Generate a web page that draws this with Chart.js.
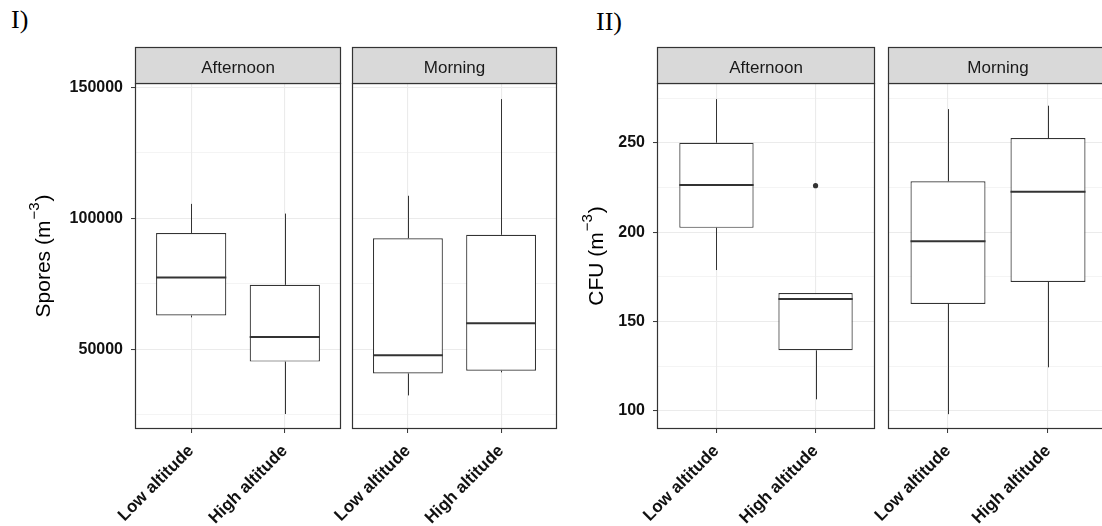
<!DOCTYPE html>
<html>
<head>
<meta charset="utf-8">
<script src="https://cdn.jsdelivr.net/npm/chart.js@4.4.1/dist/chart.umd.min.js"></script>
<style>
    body { margin: 0; width: 1102px; height: 526px; overflow: hidden; background: #fff; position: relative; }
    canvas.facet { position: absolute; top: 0; }
    .panel-label { position: absolute; font-family: 'Liberation Serif', 'Times New Roman', serif; font-size: 26px; line-height: 26px; color: #000; }
</style>
</head>
<body>
<div class="panel-label" style="left: 11px; top: 7px;">I)</div>
<div class="panel-label" style="left: 596px; top: 9px;">II)</div>
<canvas id="spores-afternoon" class="facet" style="left: 0px;" width="343" height="526"></canvas>
<canvas id="spores-morning" class="facet" style="left: 272px;" width="287" height="526"></canvas>
<canvas id="cfu-afternoon" class="facet" style="left: 560px;" width="319" height="526"></canvas>
<canvas id="cfu-morning" class="facet" style="left: 808px;" width="302" height="526"></canvas>
<script>
// Facets and categories
const timeOfDay = ['Afternoon', 'Morning'];
const altitudes = ['Low altitude', 'High altitude'];

// Spores (m-3): one inner array per time of day, values for [low, high]
const sporesMin    = [[62200, 25300], [32400, 41200]];
const sporesQ1     = [[62900, 45300], [40800, 41800]];
const sporesMedian = [[77400, 54700], [47700, 59900]];
const sporesQ3     = [[94400, 74600], [92400, 93700]];
const sporesMax    = [[105500, 101800], [108600, 145500]];
const sporesOutliers = [[[], []], [[], []]];
const sporesBreaks = [50000, 100000, 150000];
const sporesMinorBreaks = [25000, 75000, 125000];

// CFU (m-3)
const cfuMin    = [[178.8, 106.5], [98.2, 124.4]];
const cfuQ1     = [[202.4, 133.9], [159.8, 172.1]];
const cfuMedian = [[226.3, 162.6], [194.9, 222.6]];
const cfuQ3     = [[250.0, 165.9], [228.4, 252.6]];
const cfuMax    = [[274.4, 165.9], [268.8, 270.7]];
const cfuOutliers = [[[], [226]], [[], []]];
const cfuBreaks = [100, 150, 200, 250];
const cfuMinorBreaks = [125, 175, 225, 275];

const INK = '#333333';
const GRID = '#ebebeb';

// Whiskers, medians, panel border, strip and y title
const facetPlugin = {
    id: 'facet',
    afterDatasetsDraw(chart, args, opts) {
        const ctx = chart.ctx;
        const y = chart.scales.y;
        const meta = chart.getDatasetMeta(0);
        ctx.save();
        ctx.strokeStyle = INK;
        meta.data.forEach((bar, i) => {
            const { x, width } = bar.getProps(['x', 'width'], true);
            const cx = Math.round(x) + 0.5;
            ctx.lineWidth = 1;
            ctx.beginPath();
            ctx.moveTo(cx, y.getPixelForValue(opts.q3[i]));
            ctx.lineTo(cx, y.getPixelForValue(opts.max[i]));
            ctx.moveTo(cx, y.getPixelForValue(opts.q1[i]));
            ctx.lineTo(cx, y.getPixelForValue(opts.min[i]));
            ctx.stroke();
            const my = y.getPixelForValue(opts.median[i]);
            ctx.lineWidth = 2;
            ctx.beginPath();
            ctx.moveTo(x - width / 2, my);
            ctx.lineTo(x + width / 2, my);
            ctx.stroke();
        });
        ctx.restore();
    },
    afterDraw(chart, args, opts) {
        const ctx = chart.ctx;
        const { left, right, top, bottom } = chart.chartArea;
        const l = Math.round(left) + 0.5, r = Math.round(right) - 0.5;
        ctx.save();
        ctx.strokeStyle = INK;
        ctx.lineWidth = 1.2;
        ctx.strokeRect(l, top + 0.5, r - l, bottom - top - 1);
        // strip
        ctx.fillStyle = '#d9d9d9';
        ctx.fillRect(l, 47.5, r - l, top - 47.5);
        ctx.strokeRect(l, 47.5, r - l, top - 47);
        ctx.fillStyle = '#1a1a1a';
        ctx.font = '17px "Liberation Sans", Arial, sans-serif';
        ctx.textAlign = 'center';
        ctx.textBaseline = 'middle';
        ctx.fillText(opts.strip, (left + right) / 2, (47 + top) / 2 + 3);
        // y title with superscript
        if (opts.title) {
            ctx.translate(opts.titleX, (top + bottom) / 2);
            ctx.rotate(-Math.PI / 2);
            ctx.fillStyle = '#000';
            ctx.textAlign = 'left';
            ctx.textBaseline = 'alphabetic';
            const mainFont = '21px "Liberation Sans", Arial, sans-serif';
            const supFont = '15px "Liberation Sans", Arial, sans-serif';
            ctx.font = mainFont;
            const wMain = ctx.measureText(opts.title).width;
            const wClose = ctx.measureText(')').width;
            ctx.font = supFont;
            const wSup = ctx.measureText('\u22123').width;
            let x0 = -(wMain + wSup + wClose + 2) / 2;
            ctx.font = mainFont;
            ctx.fillText(opts.title, x0, 0);
            ctx.font = supFont;
            ctx.fillText('\u22123', x0 + wMain + 1, -11);
            ctx.font = mainFont;
            ctx.fillText(')', x0 + wMain + wSup + 2, 0);
        }
        ctx.restore();
    }
};

function makeFacet(canvasId, f, stats, setup) {
    const majors = setup.breaks;
    const all = setup.breaks.concat(setup.minor).sort((a, b) => a - b);
    const isMajor = v => majors.includes(v);
    new Chart(document.getElementById(canvasId), {
        type: 'bar',
        data: {
            datasets: [{
                data: altitudes.map((a, i) => ({ x: i + 1, y: [stats.q1[f][i], stats.q3[f][i]] })),
                backgroundColor: '#ffffff',
                borderColor: INK,
                borderWidth: 1.2,
                borderSkipped: false,
                categoryPercentage: 0.75,
                barPercentage: 1
            }, {
                type: 'scatter',
                data: stats.outliers[f].flatMap((vals, i) => vals.map(v => ({ x: i + 1, y: v }))),
                pointRadius: 2.6,
                backgroundColor: INK,
                borderWidth: 0
            }]
        },
        options: {
            responsive: false,
            animation: false,
            layout: { padding: { top: 83, right: 2, left: 0, bottom: 0 } },
            plugins: {
                legend: { display: false },
                tooltip: { enabled: false },
                facet: {
                    strip: timeOfDay[f],
                    q1: stats.q1[f], q3: stats.q3[f], median: stats.median[f],
                    min: stats.min[f], max: stats.max[f],
                    title: setup.showAxis ? setup.title : null,
                    titleX: setup.titleX
                }
            },
            scales: {
                x: {
                    type: 'linear',
                    min: 0.4,
                    max: 2.6,
                    offset: false,
                    afterBuildTicks: s => { s.ticks = altitudes.map((a, i) => ({ value: i + 1 })); },
                    afterFit: s => { s.height = 97; },
                    border: { display: false },
                    grid: { color: GRID, lineWidth: 1.1, tickColor: INK, tickLength: 4, tickWidth: 1, offset: false },
                    ticks: {
                        callback: v => altitudes[v - 1],
                        autoSkip: false,
                        minRotation: 45,
                        maxRotation: 45,
                        padding: 8,
                        color: '#111',
                        font: { family: '"Liberation Sans", Arial, sans-serif', size: 17, weight: 'bold' }
                    }
                },
                y: {
                    min: setup.min,
                    max: setup.max,
                    beginAtZero: false,
                    afterBuildTicks: s => { s.ticks = all.map(v => ({ value: v })); },
                    afterFit: s => { s.width = setup.axisWidth; },
                    border: { display: false },
                    grid: {
                        color: GRID,
                        lineWidth: c => (c.tick && isMajor(c.tick.value)) ? 1.1 : 0.55,
                        drawTicks: setup.showAxis,
                        tickColor: c => (c.tick && isMajor(c.tick.value)) ? INK : 'rgba(0,0,0,0)',
                        tickLength: 4,
                        tickWidth: 1
                    },
                    ticks: {
                        display: setup.showAxis,
                        callback: v => isMajor(v) ? String(v) : '',
                        padding: 8,
                        color: '#111',
                        font: { family: '"Liberation Sans", Arial, sans-serif', size: 16, weight: 'bold' }
                    }
                }
            }
        },
        plugins: [facetPlugin]
    });
}

const sporesStats = { min: sporesMin, q1: sporesQ1, median: sporesMedian, q3: sporesQ3, max: sporesMax, outliers: sporesOutliers };
const cfuStats = { min: cfuMin, q1: cfuQ1, median: cfuMedian, q3: cfuQ3, max: cfuMax, outliers: cfuOutliers };

const sporesAxis = { min: 19580, max: 151640, breaks: sporesBreaks, minor: sporesMinorBreaks, title: 'Spores (m' };
const cfuAxis = { min: 89.9, max: 283.4, breaks: cfuBreaks, minor: cfuMinorBreaks, title: 'CFU (m' };

makeFacet('spores-afternoon', 0, sporesStats, Object.assign({}, sporesAxis, { showAxis: true, axisWidth: 135, titleX: 50 }));
makeFacet('spores-morning', 1, sporesStats, Object.assign({}, sporesAxis, { showAxis: false, axisWidth: 80 }));
makeFacet('cfu-afternoon', 0, cfuStats, Object.assign({}, cfuAxis, { showAxis: true, axisWidth: 97, titleX: 43 }));
makeFacet('cfu-morning', 1, cfuStats, Object.assign({}, cfuAxis, { showAxis: false, axisWidth: 80 }));
</script>
</body>
</html>
